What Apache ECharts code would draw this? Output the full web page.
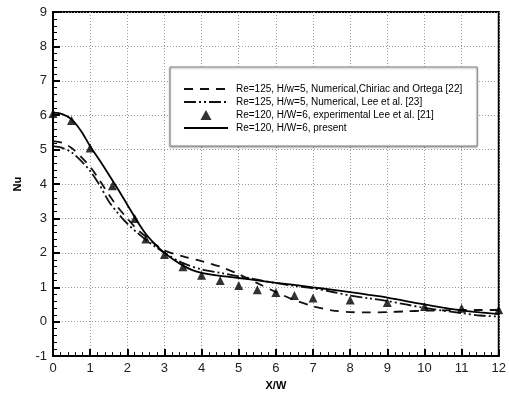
<!DOCTYPE html>
<html>
<head>
<meta charset="utf-8">
<title>Nu vs X/W</title>
<script src="https://cdn.jsdelivr.net/npm/echarts@6/dist/echarts.min.js"></script>
<style>
  html, body { margin: 0; padding: 0; background: #fff; }
  #chart { width: 509px; height: 396px; }
</style>
</head>
<body>
<div id="chart"></div>
<script>
// Local Nusselt number along the target wall, four data sets
const seriesNames = [
  'Re=125, H/w=5, Numerical,Chiriac and Ortega [22]',
  'Re=125, H/w=5, Numerical, Lee et al. [23]',
  'Re=120, H/W=6, experimental Lee et al. [21]',
  'Re=120, H/W=6, present'
];

// Chiriac and Ortega, numerical (dashed)
const chiriacX = [0, 0.25, 0.5, 0.75, 1, 1.25, 1.5, 1.75, 2, 2.25, 2.5, 2.75, 3, 3.5, 4, 4.5, 5, 5.5, 6, 6.5, 7, 7.5, 8, 8.5, 9, 9.5, 10, 10.5, 11, 11.5, 12];
const chiriacNu = [5.25, 5.2, 5.05, 4.8, 4.5, 4.12, 3.7, 3.32, 3.0, 2.7, 2.47, 2.25, 2.07, 1.9, 1.76, 1.6, 1.38, 1.12, 0.86, 0.63, 0.45, 0.33, 0.28, 0.27, 0.28, 0.3, 0.32, 0.33, 0.34, 0.34, 0.34];

// Lee et al., numerical (dash-dot-dot)
const leeNumX = [0, 0.25, 0.5, 0.75, 1, 1.25, 1.5, 1.75, 2, 2.25, 2.5, 2.75, 3, 3.5, 4, 4.5, 5, 5.5, 6, 6.5, 7, 7.5, 8, 8.5, 9, 9.5, 10, 10.5, 11, 11.5, 12];
const leeNumNu = [5.1, 5.05, 4.92, 4.68, 4.38, 3.98, 3.5, 3.15, 2.85, 2.6, 2.38, 2.18, 2.0, 1.7, 1.52, 1.42, 1.32, 1.22, 1.12, 1.04, 0.97, 0.87, 0.76, 0.68, 0.6, 0.5, 0.4, 0.32, 0.25, 0.18, 0.15];

// Lee et al., experiment (triangles)
const leeExpX = [0, 0.5, 1, 1.6, 2.2, 2.5, 3, 3.5, 4, 4.5, 5, 5.5, 6, 6.5, 7, 8, 9, 10, 11, 12];
const leeExpNu = [6.05, 5.85, 5.05, 3.95, 3.0, 2.4, 1.95, 1.6, 1.35, 1.2, 1.05, 0.93, 0.85, 0.76, 0.69, 0.63, 0.56, 0.44, 0.39, 0.35];

// Present computation (solid)
const presentX = [0, 0.25, 0.5, 0.75, 1, 1.25, 1.5, 1.75, 2, 2.25, 2.5, 2.75, 3, 3.25, 3.5, 3.75, 4, 4.5, 5, 5.5, 6, 6.5, 7, 7.5, 8, 8.5, 9, 9.5, 10, 10.5, 11, 11.5, 12];
const presentNu = [6.08, 6.03, 5.88, 5.55, 5.1, 4.7, 4.28, 3.85, 3.4, 2.95, 2.55, 2.25, 2.0, 1.8, 1.63, 1.5, 1.42, 1.33, 1.27, 1.2, 1.13, 1.07, 1.0, 0.93, 0.86, 0.78, 0.7, 0.6, 0.5, 0.41, 0.33, 0.27, 0.22];

const xTicks = { min: 0, max: 12, interval: 1 };
const yTicks = { min: -1, max: 9, interval: 1 };

const pairs = (xs, ys) => xs.map((x, i) => [x, ys[i]]);

const FONT = 'Liberation Sans, Arial, sans-serif';
const axisFont = { fontFamily: FONT, fontSize: 13, color: '#222' };
const gridLine = { show: true, lineStyle: { color: '#9a9a9a', width: 1, type: [1, 2] } };

// legend entries: plain line samples for the curves, an upright triangle for the experiment
const hiddenMarker = { opacity: 0 };
const legendItems = [
  { name: seriesNames[0], itemStyle: hiddenMarker },
  { name: seriesNames[1], itemStyle: hiddenMarker },
  { name: seriesNames[2], icon: 'path://M5,0L10,9L0,9Z' },
  { name: seriesNames[3], itemStyle: hiddenMarker }
];

function valueAxis(range, name, nameGap) {
  return {
    type: 'value',
    min: range.min, max: range.max, interval: range.interval,
    name: name,
    nameLocation: 'middle',
    nameGap: nameGap,
    nameTextStyle: { fontFamily: FONT, fontSize: 11, fontWeight: 'bold', color: '#000' },
    axisLine: { show: true, onZero: false, lineStyle: { color: '#000', width: 2 } },
    axisTick: { show: true, inside: true, length: 7, lineStyle: { color: '#000', width: 2 } },
    minorTick: { show: true, splitNumber: 5, length: 4, lineStyle: { color: '#000', width: 1 } },
    axisLabel: Object.assign({ margin: 6 }, axisFont),
    splitLine: gridLine
  };
}

const chart = echarts.init(document.getElementById('chart'), null, { renderer: 'canvas' });

chart.setOption({
  animation: false,
  backgroundColor: '#fff',
  grid: {
    left: 53, right: 4, top: 12, bottom: 28,
    show: true, borderColor: '#000', borderWidth: 2, backgroundColor: 'transparent'
  },
  legend: {
    orient: 'vertical',
    left: 170, top: 67,
    padding: [17, 15, 13, 13],
    itemGap: 3,
    itemWidth: 44,
    itemHeight: 10,
    symbolKeepAspect: true,
    backgroundColor: '#fff',
    borderColor: '#808080',
    borderWidth: 1,
    shadowColor: 'rgba(0,0,0,0.35)',
    shadowBlur: 2,
    shadowOffsetX: 0,
    shadowOffsetY: 1,
    textStyle: { fontFamily: FONT, fontSize: 10, color: '#000', padding: [0, 0, 0, 3] },
    data: legendItems
  },
  xAxis: valueAxis(xTicks, 'X/W', 17),
  yAxis: valueAxis(yTicks, 'Nu', 30),
  series: [
    {
      name: seriesNames[0],
      type: 'line',
      data: pairs(chiriacX, chiriacNu),
      smooth: 0.3,
      symbol: 'none',
      lineStyle: { color: '#111', width: 1.8, type: [9, 7] },
      itemStyle: { color: '#111' },
      z: 2
    },
    {
      name: seriesNames[1],
      type: 'line',
      data: pairs(leeNumX, leeNumNu),
      smooth: 0.3,
      symbol: 'none',
      lineStyle: { color: '#111', width: 1.8, type: [12, 3, 2, 3, 2, 3] },
      itemStyle: { color: '#111' },
      z: 2
    },
    {
      name: seriesNames[2],
      type: 'scatter',
      data: pairs(leeExpX, leeExpNu),
      symbol: 'triangle',
      symbolSize: 9,
      itemStyle: { color: '#000' },
      z: 4
    },
    {
      name: seriesNames[3],
      type: 'line',
      data: pairs(presentX, presentNu),
      smooth: 0.3,
      symbol: 'none',
      lineStyle: { color: '#000', width: 1.8, type: 'solid' },
      itemStyle: { color: '#000' },
      z: 3
    }
  ]
});
</script>
</body>
</html>
